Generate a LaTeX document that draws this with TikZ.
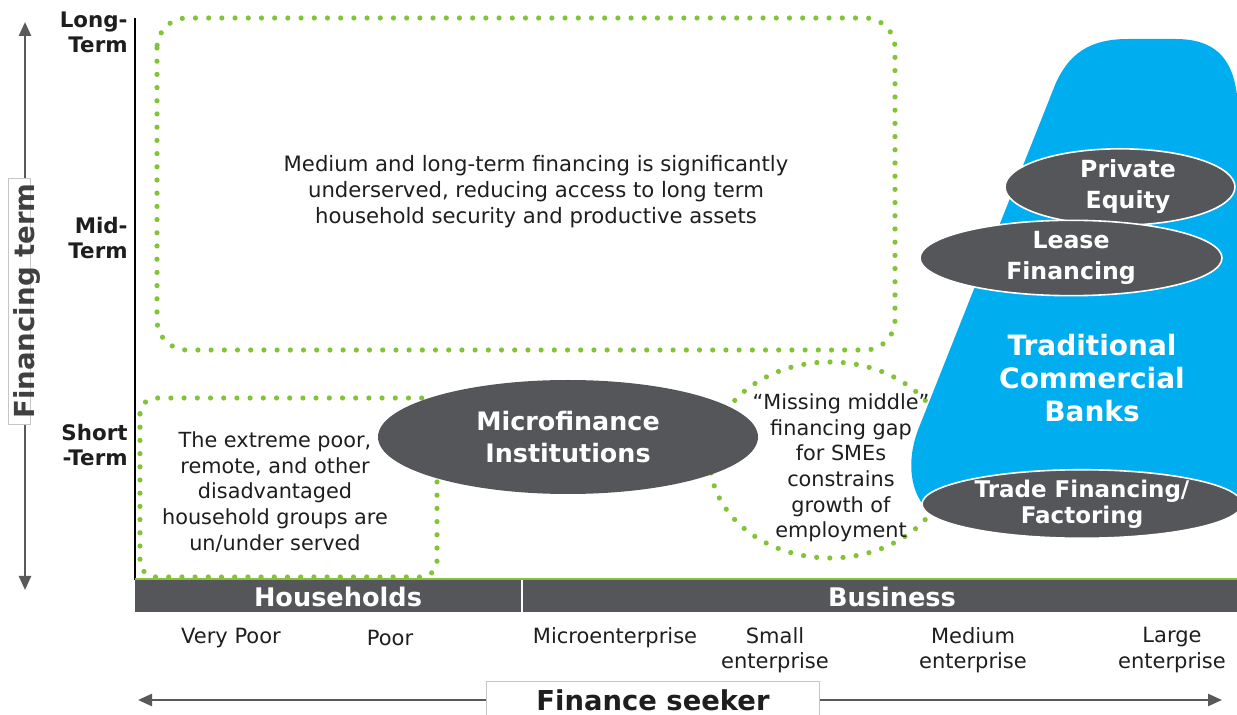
\documentclass[tikz,border=0pt]{standalone}
\usepackage{fontspec}
\setmainfont{DejaVu Sans}
\usetikzlibrary{shapes.geometric,arrows.meta}
\definecolor{slate}{RGB}{84,86,90}
\definecolor{sky}{RGB}{0,174,239}
\definecolor{leaf}{RGB}{132,194,55}
\definecolor{ink}{RGB}{30,30,30}
\definecolor{axisgray}{RGB}{88,89,91}
\begin{document}
\begin{tikzpicture}[
    x=0.5pt, y=-0.5pt,
    leafdots/.style={draw=leaf, line width=2.6pt, line cap=round, dash pattern=on 0pt off 6.6pt},
    oval/.style={ellipse, fill=slate, draw=white, line width=0.8pt, inner sep=0pt, text=white, align=center,
        font=\bfseries\fontsize{11.8}{15.5}\selectfont},
    note/.style={text=ink, align=center, font=\fontsize{10.4}{12.8}\selectfont},
    seeker/.style={text=ink, align=center, inner sep=0pt, font=\fontsize{10.5}{12.6}\selectfont},
    termlabel/.style={anchor=east, align=right, inner sep=0pt, text=ink, font=\bfseries\fontsize{10.7}{12.5}\selectfont},
    twoway/.style={draw=axisgray, line width=1.2pt, {Triangle[width=6pt,length=7pt]}-{Triangle[width=6pt,length=7pt]}}
]
    \useasboundingbox (0,0) rectangle (1237,715);

    % gaps
    \draw[leafdots, rounded corners=15pt] (157,18) rectangle (895,350);
    \node[note, font=\fontsize{10.6}{13}\selectfont] (longgap) at (536,192)
        {Medium and long-term financing is significantly\\underserved, reducing access to long term\\household security and productive assets};
    \draw[leafdots, rounded corners=8pt] (140,398) rectangle (437,577);
    \node[note] (poorgap) at (275,492)
        {The extreme poor,\\remote, and other\\disadvantaged\\household groups are\\un/under served};
    \draw[leafdots] (830,460) ellipse [x radius=60pt, y radius=49pt];
    \node[note] (midgap) at (841,468)
        {“Missing middle”\\financing gap\\for SMEs\\constrains\\growth of\\employment};

    % banks
    \fill[sky] (1237,505) -- (1237,95) .. controls (1232,55) and (1212,39) .. (1175,39)
        -- (1128,39) .. controls (1088,39) and (1068,55) .. (1055,85)
        -- (918,430) .. controls (906,462) and (910,495) .. (930,512) -- cycle;
    \node[text=white, align=center, font=\bfseries\fontsize{14}{16.5}\selectfont] (banks) at (1092,378)
        {Traditional\\Commercial\\Banks};
    \node[oval, minimum width=115pt, minimum height=31.5pt] (equity) at (1120,187) {\hspace*{8pt}Private\\\hspace*{8pt}Equity};
    \node[oval, minimum width=151pt, minimum height=34.5pt] (lease) at (1071,258) {Lease\\Financing};
    \node[oval, minimum width=160pt, minimum height=34pt, font=\bfseries\fontsize{11.5}{13}\selectfont]
        (trade) at (1082,504) {Trade Financing/\\Factoring};
    \node[oval, draw=none, minimum width=190pt, minimum height=57pt, font=\bfseries\fontsize{12.7}{16}\selectfont]
        (mfi) at (568,437) {Microfinance\\Institutions};

    % financing term axis
    \draw[black, line width=1pt] (135,18) -- (135,580);
    \draw[twoway] (25,22) -- (25,590);
    \node[rotate=90, fill=white, draw=gray!45, line width=0.5pt, minimum width=123pt, minimum height=11pt,
        inner sep=0pt] (termbox) at (19,302) {};
    \node[rotate=90, inner sep=0pt, text=ink!85, font=\bfseries\fontsize{13.8}{16}\selectfont]
        (termaxis) at (27,301) {Financing term};
    \foreach \y/\t [count=\i] in {32/{Long-\\Term}, 238/{Mid-\\Term}, 445/{Short\\-Term}}
        \node[termlabel] (term-\i) at (128,\y) {\t};

    % finance seeker axis
    \fill[slate] (135,580) rectangle (1237,612);
    \draw[leaf, line width=0.6pt] (135,579) -- (1237,579);
    \draw[white, line width=1.2pt] (522,580) -- (522,612);
    \node[text=white, font=\bfseries\fontsize{12.8}{15}\selectfont] (households) at (338,597) {Households};
    \node[text=white, font=\bfseries\fontsize{12.8}{15}\selectfont] (business) at (892,597) {Business};
    \foreach \x/\y/\l [count=\i] in {231/638/{Very Poor}, 390/638/Poor, 615/638/Microenterprise,
        775/650/{Small\\enterprise}, 973/650/{Medium\\enterprise}, 1172/650/{Large\\enterprise}}
        \node[seeker] (seeker-\i) at (\x,\y) {\l};
    \draw[twoway] (138,700) -- (1222,700);
    \node[fill=white, draw=gray!45, line width=0.5pt, minimum width=166.5pt, minimum height=18pt,
        text=ink, font=\bfseries\fontsize{13.7}{16}\selectfont] (seekeraxis) at (653,700) {Finance seeker};
\end{tikzpicture}
\end{document}
